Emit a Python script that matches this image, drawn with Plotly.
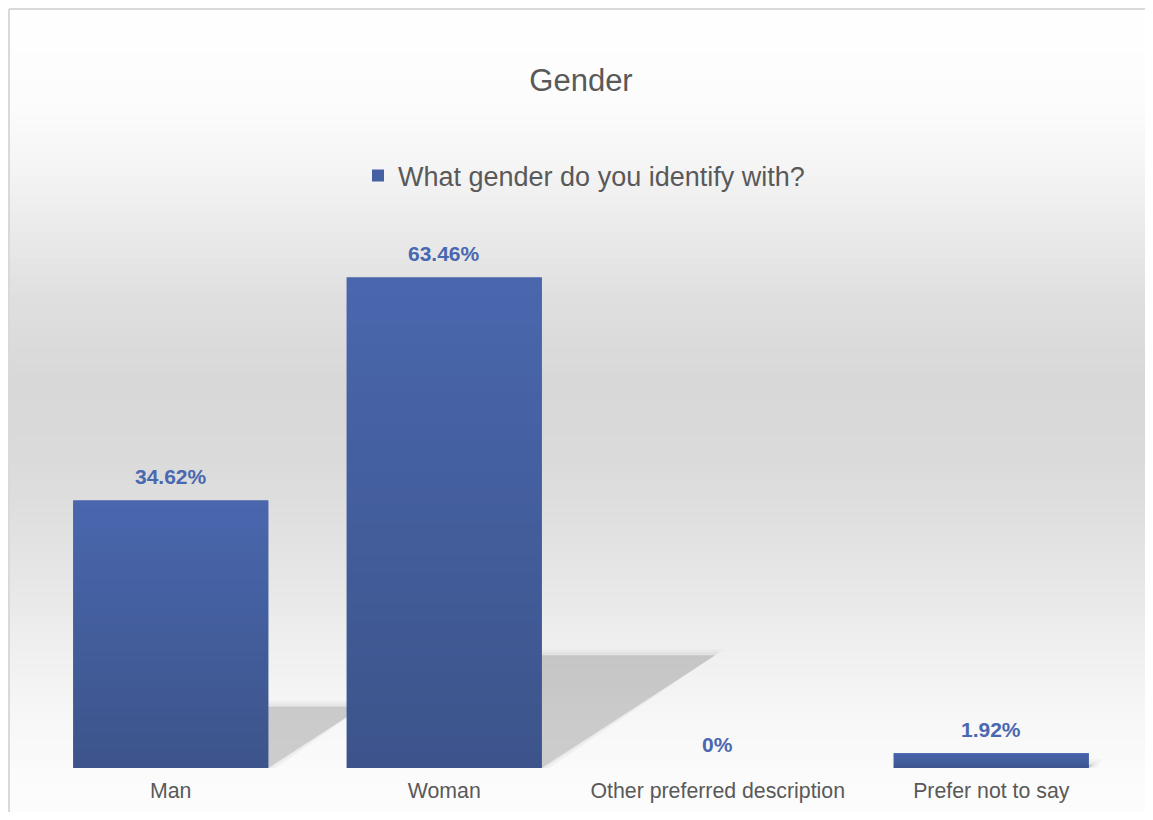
import plotly.graph_objects as go

categories = ["Man", "Woman", "Other preferred description", "Prefer not to say"]
values = [34.62, 63.46, 0, 1.92]
labels = ["34.62%", "63.46%", "0%", "1.92%"]
series_name = "What gender do you identify with?"

OFF = 8  # page body margin
W, H = 1137, 804
ML, MR, MT, MB = 26, 17, 219, 44
PW, PH = W - ML - MR, H - MT - MB
BAR_W = 0.713
YMAX = 70

def px_x(p):
    return (p - OFF - ML) / PW

def px_y(p):
    return (H - MB - (p - OFF)) / PH

def hexmix(c1, c2, t):
    a = [int(c1[i:i + 2], 16) for i in (1, 3, 5)]
    b = [int(c2[i:i + 2], 16) for i in (1, 3, 5)]
    return "#" + "".join(f"{round(a[k] + (b[k] - a[k]) * t):02x}" for k in range(3))

shapes = []
# background vertical gradient (styling), screen-pixel stops
stops = [(0, 255), (100, 252), (160, 246), (220, 236), (300, 223), (380, 216),
         (460, 218), (550, 227), (640, 238), (720, 247), (790, 252), (830, 253)]
NB = 90
for k in range(NB):
    y0 = OFF + k * H / NB
    y1 = OFF + (k + 1) * H / NB
    ym = (y0 + y1) / 2
    g = 255
    for j in range(len(stops) - 1):
        if stops[j][0] <= ym <= stops[j + 1][0]:
            t = (ym - stops[j][0]) / (stops[j + 1][0] - stops[j][0])
            g = round(stops[j][1] + (stops[j + 1][1] - stops[j][1]) * t)
            break
    col = f"rgb({g},{g},{g})"
    shapes.append(dict(type="rect", xref="paper", yref="paper", layer="below",
                       x0=px_x(0), x1=px_x(W + 2 * OFF), y0=px_y(y1 + 0.5), y1=px_y(y0 - 0.5),
                       fillcolor=col, line=dict(width=0)))

# outer border: left and top edges
shapes.append(dict(type="line", xref="paper", yref="paper", layer="below",
                   x0=px_x(OFF + 1), x1=px_x(OFF + 1), y0=px_y(H + OFF + 10), y1=px_y(OFF + 1),
                   line=dict(color="#d9d9d9", width=2)))
shapes.append(dict(type="line", xref="paper", yref="paper", layer="below",
                   x0=px_x(OFF + 1), x1=px_x(W + OFF + 10), y0=px_y(OFF + 1), y1=px_y(OFF + 1),
                   line=dict(color="#d9d9d9", width=2)))

# perspective shadows derived from bar values
for i, v in enumerate(values):
    if v <= 0:
        continue
    h = 0.23 * v
    s = 0.01 * v
    for grow, op in [(0.03, 0.06), (0.015, 0.08), (0.0, 0.32)]:
        gy = grow * 25
        x0 = i - BAR_W / 2
        x1 = i + BAR_W / 2 + grow
        path = (f"M {x0},0 L {x1},0 L {x1 + s},{h + gy} "
                f"L {x0 + s - grow},{h + gy} Z")
        shapes.append(dict(type="path", xref="x", yref="y", layer="below", path=path,
                           fillcolor=f"rgba(140,140,140,{op})", line=dict(width=0)))

# bar gradient overlay derived from values
NG = 30
for i, v in enumerate(values):
    if v <= 0:
        continue
    for k in range(NG):
        t = (k + 0.5) / NG
        shapes.append(dict(type="rect", xref="x", yref="y", layer="above",
                           x0=i - BAR_W / 2, x1=i + BAR_W / 2,
                           y0=v * k / NG, y1=v * (k + 1) / NG + (0.02 if k < NG - 1 else 0),
                           fillcolor=hexmix("#3c548a", "#4a67ae", t), line=dict(width=0)))

fig = go.Figure()
fig.add_trace(go.Bar(
    x=categories, y=values, name=series_name, width=BAR_W,
    marker=dict(color="#4560a3", line=dict(width=0)),
    showlegend=True,
))

annotations = []
for c, v, lab in zip(categories, values, labels):
    annotations.append(dict(x=c, y=v, xref="x", yref="y", text=f"<b>{lab}</b>",
                            showarrow=False, yanchor="middle", yshift=24,
                            font=dict(family="Liberation Sans, Arial", size=21, color="#4a68b0")))

fig.update_layout(
    width=W, height=H,
    margin=dict(l=ML, r=MR, t=MT, b=MB, autoexpand=False),
    paper_bgcolor="white", plot_bgcolor="rgba(0,0,0,0)",
    title=dict(text="Gender", x=px_x(581), xref="paper", xanchor="center",
               y=1 - (80 - OFF) / H, yanchor="middle", yref="container",
               font=dict(family="Liberation Sans, Arial", size=31, color="#595959")),
    legend=dict(orientation="h", x=px_x(584), xanchor="center", y=px_y(176), yanchor="middle",
                font=dict(family="Liberation Sans, Arial", size=27, color="#595959"),
                bgcolor="rgba(0,0,0,0)", itemwidth=30),
    xaxis=dict(type="category", range=[-0.5, 3.5], showgrid=False, zeroline=False,
               showline=False, ticks="", ticklabelstandoff=8, automargin=False,
               tickfont=dict(family="Liberation Sans, Arial", size=21.3, color="#595959")),
    yaxis=dict(range=[0, YMAX], visible=False, showgrid=False, zeroline=False, automargin=False),
    shapes=shapes,
    annotations=annotations,
    bargap=1 - BAR_W,
    showlegend=True,
)

fig.write_html("out.html")
